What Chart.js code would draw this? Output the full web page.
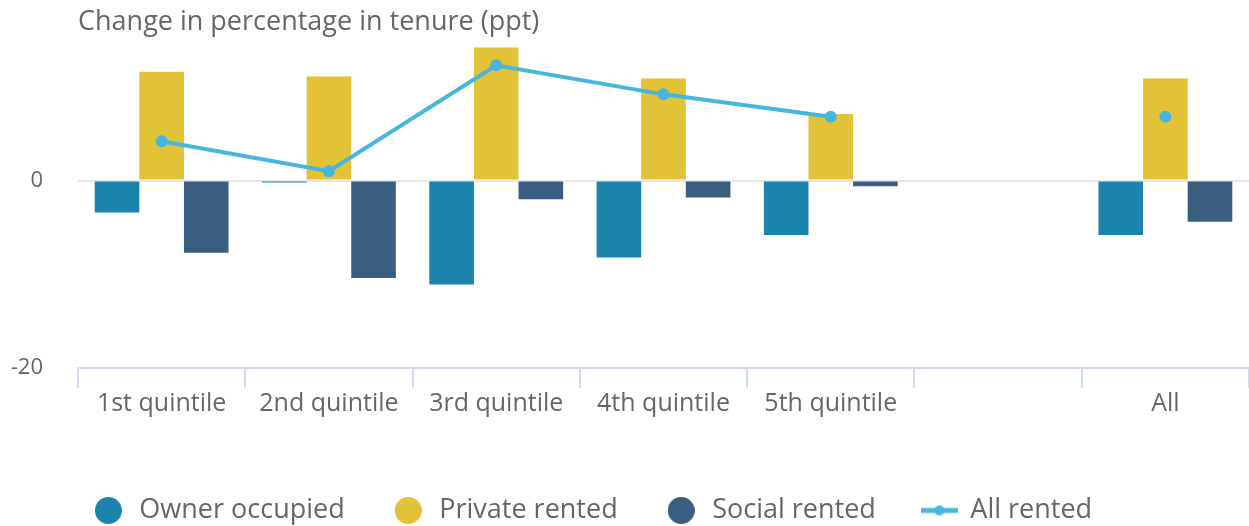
<!DOCTYPE html>
<html>
<head>
<meta charset="utf-8">
<script src="https://cdn.jsdelivr.net/npm/chart.js@4"></script>
<style>
  html, body { margin: 0; padding: 0; background: #fff; }
  #wrap { width: 1249px; height: 526px; }
</style>
</head>
<body>
<div id="wrap"><canvas id="tenureChart"></canvas></div>
<script>
const categories = ["1st quintile", "2nd quintile", "3rd quintile", "4th quintile", "5th quintile", "", "All"];
const ownerOccupied = [-3.4, -0.2, -11.1, -8.2, -5.8, null, -5.8];
const privateRented = [11.6, 11.1, 14.2, 10.9, 7.1, null, 10.9];
const socialRented = [-7.7, -10.4, -2.0, -1.8, -0.6, null, -4.4];
const allRented = [4.2, 1.0, 12.3, 9.2, 6.8, null, 6.8];
const yTicks = [-20, 0];
const titleText = "Change in percentage in tenure (ppt)";

const FONT = "'Open Sans', sans-serif";
const GREY = "#666666";
const COLORS = ["#1b84ad", "#e2c236", "#3a5e7f", "#47b6de"];

// legend markers drawn on small canvases
function dotMarker(color) {
  const c = document.createElement("canvas");
  c.width = 27;
  c.height = 27;
  const g = c.getContext("2d");
  g.fillStyle = color;
  g.beginPath();
  g.arc(13.5, 13.5, 13.5, 0, Math.PI * 2);
  g.fill();
  return c;
}

function lineMarker(color) {
  const c = document.createElement("canvas");
  c.width = 37;
  c.height = 12;
  const g = c.getContext("2d");
  g.fillStyle = color;
  g.fillRect(0, 3.5, 37, 5);
  g.beginPath();
  g.arc(18.5, 6, 5, 0, Math.PI * 2);
  g.fill();
  return c;
}

const titlePlugin = {
  id: "leftTitle",
  afterDraw(chart) {
    const ctx = chart.ctx;
    ctx.save();
    ctx.font = "27px " + FONT;
    ctx.fillStyle = GREY;
    ctx.textBaseline = "alphabetic";
    ctx.fillText(titleText, chart.chartArea.left, 30);
    ctx.restore();
  }
};

// keep legend low on the page and shifted a bit left like the original
const legendSpacing = {
  id: "legendSpacing",
  afterInit(chart) {
    const lg = chart.legend;
    const fit = lg.fit.bind(lg);
    lg.fit = function () {
      fit();
      this.height = 75;
      if (this.lineWidths && this.lineWidths.length) this.lineWidths[0] += 66;
    };
  }
};

const ctx = document.getElementById("tenureChart");

new Chart(ctx.getContext("2d"), {
  type: "bar",
  data: {
    labels: categories,
    datasets: [
      {
        label: "Owner occupied",
        data: ownerOccupied,
        backgroundColor: COLORS[0],
        categoryPercentage: 0.8,
        barPercentage: 1.0,
      },
      {
        label: "Private rented",
        data: privateRented,
        backgroundColor: COLORS[1],
        categoryPercentage: 0.8,
        barPercentage: 1.0,
      },
      {
        label: "Social rented",
        data: socialRented,
        backgroundColor: COLORS[2],
        categoryPercentage: 0.8,
        barPercentage: 1.0,
      },
      {
        type: "line",
        label: "All rented",
        data: allRented,
        borderColor: COLORS[3],
        backgroundColor: COLORS[3],
        borderWidth: 4,
        pointRadius: 4,
        pointHoverRadius: 4,
        spanGaps: false,
        order: -1,
      },
    ],
  },
  options: {
    responsive: true,
    maintainAspectRatio: false,
    animation: false,
    layout: { autoPadding: false, padding: { top: 40, left: 0, right: 0, bottom: 0 } },
    plugins: {
      tooltip: { enabled: false },
      legend: {
        position: "bottom",
        labels: {
          usePointStyle: true,
          pointStyleWidth: 35,
          boxHeight: 19,
          padding: 46,
          color: GREY,
          font: { family: FONT, size: 27 },
          sort: (a, b) => a.datasetIndex - b.datasetIndex,
          generateLabels(chart) {
            const items = Chart.defaults.plugins.legend.labels.generateLabels(chart);
            items.forEach((it) => {
              it.pointStyle = it.datasetIndex === 3
                ? lineMarker(COLORS[3])
                : dotMarker(COLORS[it.datasetIndex]);
              it.lineWidth = 0;
            });
            return items;
          },
        },
      },
    },
    scales: {
      x: {
        grid: {
          offset: true,
          drawOnChartArea: false,
          tickLength: 20,
          color: "#d3dcee",
          lineWidth: 2,
        },
        border: { color: "#d3dcee", width: 2 },
        ticks: {
          color: GREY,
          font: { family: FONT, size: 25 },
          padding: 1,
          maxRotation: 0,
        },
        afterFit(scale) {
          scale.height = 83;
        },
      },
      y: {
        min: -20,
        max: 15,
        afterBuildTicks(scale) {
          scale.ticks = yTicks.map((v) => ({ value: v }));
        },
        afterFit(scale) {
          scale.width = 78;
          scale.paddingTop = 0;
          scale.paddingBottom = 0;
        },
        grid: {
          drawTicks: false,
          color: (c) => (c.tick && c.tick.value === 0 ? "#e6e6e6" : "rgba(0,0,0,0)"),
          lineWidth: 2,
        },
        border: { display: false },
        ticks: {
          color: GREY,
          font: { family: FONT, size: 22 },
          padding: 35,
        },
      },
    },
  },
  plugins: [titlePlugin, legendSpacing],
});
</script>
</body>
</html>
